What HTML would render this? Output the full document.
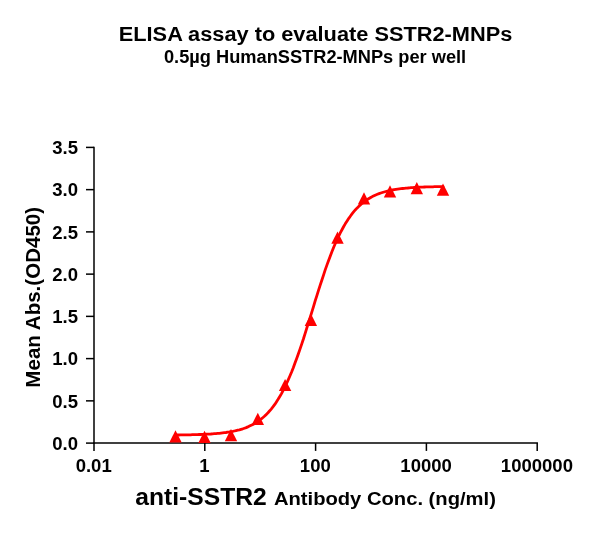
<!DOCTYPE html>
<html><head><meta charset="utf-8"><title>ELISA assay to evaluate SSTR2-MNPs</title>
<style>
html,body{margin:0;padding:0;background:#fff;}
svg{display:block;}
text{font-family:"Liberation Sans",Arial,sans-serif;font-weight:bold;fill:#000;}
.tk{font-size:18px;}
</style></head><body>
<svg width="600" height="533" viewBox="0 0 600 533">
<rect width="600" height="533" fill="#fff"/>
<text transform="translate(118.75,41.3) scale(1.0376,1)" font-size="21">ELISA assay to evaluate SSTR2-MNPs</text>
<text transform="translate(163.96,62.5) scale(1.0424,1)" font-size="17.5">0.5µg HumanSSTR2-MNPs per well</text>
<g stroke="#000" stroke-width="1.5" fill="none" stroke-linecap="butt">
<line x1="94.0" y1="146.65" x2="94.0" y2="443.85"/>
<line x1="93.25" y1="443.1" x2="537.95" y2="443.1"/>
<line x1="86.0" y1="443.10" x2="94.0" y2="443.10"/>
<line x1="86.0" y1="400.86" x2="94.0" y2="400.86"/>
<line x1="86.0" y1="358.61" x2="94.0" y2="358.61"/>
<line x1="86.0" y1="316.37" x2="94.0" y2="316.37"/>
<line x1="86.0" y1="274.13" x2="94.0" y2="274.13"/>
<line x1="86.0" y1="231.89" x2="94.0" y2="231.89"/>
<line x1="86.0" y1="189.64" x2="94.0" y2="189.64"/>
<line x1="86.0" y1="147.40" x2="94.0" y2="147.40"/>
<line x1="94.00" y1="443.1" x2="94.00" y2="450.9"/>
<line x1="204.80" y1="443.1" x2="204.80" y2="450.9"/>
<line x1="315.60" y1="443.1" x2="315.60" y2="450.9"/>
<line x1="426.40" y1="443.1" x2="426.40" y2="450.9"/>
<line x1="537.20" y1="443.1" x2="537.20" y2="450.9"/>
</g>
<text transform="translate(78.0,449.8) scale(1.03,1)" text-anchor="end" class="tk">0.0</text>
<text transform="translate(78.0,407.6) scale(1.03,1)" text-anchor="end" class="tk">0.5</text>
<text transform="translate(78.0,365.3) scale(1.03,1)" text-anchor="end" class="tk">1.0</text>
<text transform="translate(78.0,323.1) scale(1.03,1)" text-anchor="end" class="tk">1.5</text>
<text transform="translate(78.0,280.8) scale(1.03,1)" text-anchor="end" class="tk">2.0</text>
<text transform="translate(78.0,238.6) scale(1.03,1)" text-anchor="end" class="tk">2.5</text>
<text transform="translate(78.0,196.3) scale(1.03,1)" text-anchor="end" class="tk">3.0</text>
<text transform="translate(78.0,154.1) scale(1.03,1)" text-anchor="end" class="tk">3.5</text>
<text transform="translate(93.7,471.7) scale(1.03,1)" text-anchor="middle" class="tk">0.01</text>
<text transform="translate(204.5,471.7) scale(1.03,1)" text-anchor="middle" class="tk">1</text>
<text transform="translate(315.3,471.7) scale(1.03,1)" text-anchor="middle" class="tk">100</text>
<text transform="translate(426.1,471.7) scale(1.03,1)" text-anchor="middle" class="tk">10000</text>
<text transform="translate(536.9,471.7) scale(1.03,1)" text-anchor="middle" class="tk">1000000</text>

<text transform="translate(40.2,387.64) rotate(-90) scale(1.0277,1)" font-size="20">Mean Abs.(OD450)</text>
<text transform="translate(135.2,505.2) scale(1.028,1)" font-size="24">anti-SSTR2</text>
<text transform="translate(273.9,505.2) scale(1.063,1)" font-size="19">Antibody Conc. (ng/ml)</text>
<path d="M175.5,435.0 L177.2,435.0 L178.9,435.0 L180.5,434.9 L182.2,434.9 L183.9,434.9 L185.6,434.9 L187.3,434.8 L189.0,434.8 L190.6,434.8 L192.3,434.7 L194.0,434.7 L195.7,434.6 L197.4,434.6 L199.1,434.5 L200.7,434.5 L202.4,434.4 L204.1,434.3 L205.8,434.2 L207.5,434.2 L209.1,434.1 L210.8,434.0 L212.5,433.8 L214.2,433.7 L215.9,433.6 L217.6,433.4 L219.2,433.3 L220.9,433.1 L222.6,432.9 L224.3,432.7 L226.0,432.5 L227.7,432.2 L229.3,432.0 L231.0,431.7 L232.7,431.4 L234.4,431.0 L236.1,430.6 L237.7,430.2 L239.4,429.8 L241.1,429.3 L242.8,428.8 L244.5,428.2 L246.2,427.6 L247.8,426.9 L249.5,426.1 L251.2,425.3 L252.9,424.5 L254.6,423.5 L256.3,422.5 L257.9,421.4 L259.6,420.2 L261.3,418.9 L263.0,417.5 L264.7,416.0 L266.3,414.4 L268.0,412.7 L269.7,410.8 L271.4,408.8 L273.1,406.7 L274.8,404.4 L276.4,401.9 L278.1,399.3 L279.8,396.5 L281.5,393.6 L283.2,390.4 L284.9,387.1 L286.5,383.6 L288.2,379.9 L289.9,376.0 L291.6,372.0 L293.3,367.7 L294.9,363.3 L296.6,358.8 L298.3,354.0 L300.0,349.1 L301.7,344.1 L303.4,339.0 L305.0,333.8 L306.7,328.4 L308.4,323.0 L310.1,317.6 L311.8,312.1 L313.5,306.7 L315.1,301.2 L316.8,295.8 L318.5,290.4 L320.2,285.1 L321.9,280.0 L323.6,274.9 L325.2,269.9 L326.9,265.1 L328.6,260.5 L330.3,256.0 L332.0,251.6 L333.6,247.5 L335.3,243.5 L337.0,239.7 L338.7,236.1 L340.4,232.7 L342.1,229.5 L343.7,226.5 L345.4,223.6 L347.1,220.9 L348.8,218.3 L350.5,216.0 L352.2,213.7 L353.8,211.7 L355.5,209.7 L357.2,207.9 L358.9,206.3 L360.6,204.7 L362.2,203.3 L363.9,201.9 L365.6,200.7 L367.3,199.5 L369.0,198.5 L370.7,197.5 L372.3,196.6 L374.0,195.8 L375.7,195.0 L377.4,194.3 L379.1,193.6 L380.8,193.0 L382.4,192.5 L384.1,192.0 L385.8,191.5 L387.5,191.1 L389.2,190.7 L390.8,190.3 L392.5,190.0 L394.2,189.7 L395.9,189.4 L397.6,189.1 L399.3,188.9 L400.9,188.7 L402.6,188.5 L404.3,188.3 L406.0,188.1 L407.7,188.0 L409.4,187.8 L411.0,187.7 L412.7,187.6 L414.4,187.5 L416.1,187.4 L417.8,187.3 L419.4,187.2 L421.1,187.1 L422.8,187.1 L424.5,187.0 L426.2,186.9 L427.9,186.9 L429.5,186.8 L431.2,186.8 L432.9,186.8 L434.6,186.7 L436.3,186.7 L438.0,186.6 L439.6,186.6 L441.3,186.6 L443.0,186.6" fill="none" stroke="#f00" stroke-width="2.8" stroke-linecap="round" stroke-linejoin="round"/>
<g fill="#f00">
<polygon points="175.5,430.3 169.3,442.5 181.7,442.5"/>
<polygon points="204.5,430.8 198.3,443.0 210.7,443.0"/>
<polygon points="231.0,429.0 224.8,441.2 237.2,441.2"/>
<polygon points="257.8,412.8 251.6,425.0 264.0,425.0"/>
<polygon points="285.1,378.9 278.9,391.1 291.3,391.1"/>
<polygon points="310.9,313.8 304.7,326.0 317.1,326.0"/>
<polygon points="337.5,231.6 331.3,243.8 343.7,243.8"/>
<polygon points="364.0,192.3 357.8,204.5 370.2,204.5"/>
<polygon points="390.0,185.3 383.8,197.5 396.2,197.5"/>
<polygon points="416.8,182.1 410.6,194.3 423.0,194.3"/>
<polygon points="443.0,183.5 436.8,195.7 449.2,195.7"/>
</g>
</svg>
</body></html>
